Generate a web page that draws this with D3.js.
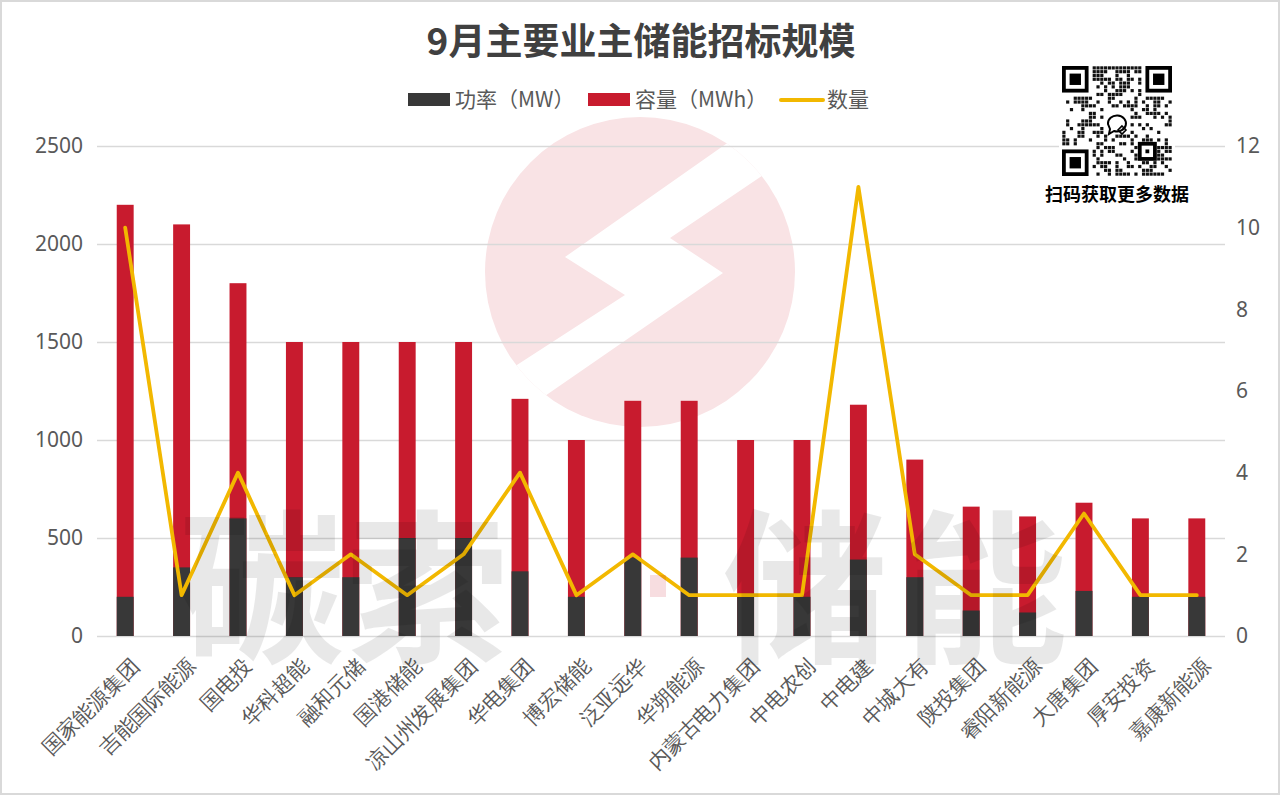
<!DOCTYPE html>
<html>
<head>
<meta charset="utf-8">
<script src="https://cdn.jsdelivr.net/npm/d3@7/dist/d3.min.js"></script>
<style>
  html, body { margin: 0; padding: 0; background: #fff; }
  svg { display: block; font-family: "Noto Sans CJK SC", "Noto Sans", sans-serif; }
</style>
</head>
<body>
<svg id="chart" width="1280" height="796"></svg>
<script>
// ---- data ----
const categories = ["国家能源集团","吉能国际能源","国电投","华科超能","融和元储","国港储能","凉山州发展集团","华电集团","博宏储能","泛亚远华","华朔能源","内蒙古电力集团","中电农创","中电建","中城大有","陕投集团","睿阳新能源","大唐集团","厚安投资","嘉康新能源"];
const powerMW = [200,350,600,300,300,500,500,330,200,400,400,200,200,390,300,130,120,230,200,200];
const capacityMWh = [2200,2100,1800,1500,1500,1500,1500,1210,1000,1200,1200,1000,1000,1180,900,660,610,680,600,600];
const counts = [10,1,4,1,2,1,2,4,1,2,1,1,1,11,2,1,1,3,1,1];
const leftTicks = [0,500,1000,1500,2000,2500];
const rightTicks = [0,2,4,6,8,10,12];
const legendLabels = ["功率（MW）","容量（MWh）","数量"];
const titleText = "9月主要业主储能招标规模";

// ---- layout ----
const W = 1280, H = 796;
const L = 97, R = 1225, T = 146, B = 636;
const cDark = "#383838", cRed = "#C81B2E", cLine = "#F2B800", cGrid = "#D9D9D9", cText = "#595959";

const svg = d3.select("#chart");
svg.append("rect").attr("x",1).attr("y",1).attr("width",W-2).attr("height",H-3)
  .attr("fill","#fff").attr("stroke","#D9D9D9").attr("stroke-width",2);

const x = d3.scaleBand().domain(categories).range([L,R]).paddingInner(0.7).paddingOuter(0.35);
const yL = d3.scaleLinear().domain([0,2500]).range([B,T]);
const yR = d3.scaleLinear().domain([0,12]).range([B,T]);

// ---- background logo watermark ----
const defs = svg.append("defs");
defs.append("clipPath").attr("id","circClip").append("circle").attr("cx",640).attr("cy",272).attr("r",155);
const logo = svg.append("g");
logo.append("circle").attr("cx",640).attr("cy",272).attr("r",155).attr("fill","#F9E3E5");
logo.append("polygon").attr("clip-path","url(#circClip)").attr("fill","#fff")
  .attr("points",[[800,92],[565,257],[625,295],[460,402],[490,434],[723,273],[670,238],[830,130]].map(p=>p.join(",")).join(" "));

// ---- gridlines + left axis ----
const gL = svg.append("g").attr("transform",`translate(${L},0)`)
  .call(d3.axisLeft(yL).tickValues(leftTicks).tickSize(-(R-L)).tickPadding(14).tickFormat(d3.format("d")));
gL.select(".domain").remove();
gL.selectAll(".tick line").attr("stroke",cGrid).attr("stroke-width",1.3);
gL.selectAll(".tick text").attr("fill",cText).attr("font-size",21).attr("font-family","'Noto Sans','Open Sans',sans-serif");

// ---- right axis ----
const gR = svg.append("g").attr("transform",`translate(${R},0)`)
  .call(d3.axisRight(yR).tickValues(rightTicks).tickSize(0).tickPadding(11));
gR.select(".domain").remove();
gR.selectAll(".tick text").attr("fill",cText).attr("font-size",21).attr("font-family","'Noto Sans','Open Sans',sans-serif");

// ---- bars ----
svg.append("g").selectAll("rect").data(categories).join("rect")
  .attr("x",d=>x(d)).attr("width",x.bandwidth())
  .attr("y",(d,i)=>yL(capacityMWh[i])).attr("height",(d,i)=>yL(0)-yL(capacityMWh[i]))
  .attr("fill",cRed);
svg.append("g").selectAll("rect").data(categories).join("rect")
  .attr("x",d=>x(d)).attr("width",x.bandwidth())
  .attr("y",(d,i)=>yL(powerMW[i])).attr("height",(d,i)=>yL(0)-yL(powerMW[i]))
  .attr("fill",cDark);

// ---- line ----
const line = d3.line().x((d,i)=>x(categories[i])+x.bandwidth()/2).y(d=>yR(d));
svg.append("path").datum(counts).attr("d",line).attr("fill","none")
  .attr("stroke",cLine).attr("stroke-width",3.8).attr("stroke-linejoin","round").attr("stroke-linecap","round");

// ---- x axis labels ----
const gX = svg.append("g").attr("transform",`translate(0,${B})`)
  .call(d3.axisBottom(x).tickSize(0).tickPadding(0));
gX.select(".domain").remove();
gX.selectAll(".tick text")
  .attr("x",0).attr("y",0).attr("dy","0.35em")
  .attr("transform","translate(10,26) rotate(-45)")
  .attr("text-anchor","end").attr("fill",cText).attr("font-size",21);

// ---- foreground text watermark ----
const wm = svg.append("g").attr("font-weight",700).attr("font-size",165).attr("fill","#000").attr("fill-opacity",0.09).attr("text-anchor","middle");
[["碳",262],["索",427],["储",805],["能",985]].forEach(([t,cx])=>{
  wm.append("text").attr("x",cx).attr("y",650).text(t);
});
svg.append("rect").attr("x",650).attr("y",575).attr("width",16).attr("height",22).attr("fill","#C81B2E").attr("fill-opacity",0.15);

// ---- title ----
svg.append("text").attr("x",641).attr("y",55).attr("text-anchor","middle")
  .attr("font-size",37).attr("font-weight",700).attr("fill","#404040").text(titleText);

// ---- legend ----
const lg = svg.append("g").attr("font-size",21).attr("fill",cText);
lg.append("rect").attr("x",408).attr("y",93).attr("width",42).attr("height",13).attr("fill",cDark);
lg.append("text").attr("x",455).attr("y",100).attr("dy","0.35em").text(legendLabels[0]);
lg.append("rect").attr("x",588).attr("y",93).attr("width",42).attr("height",13).attr("fill",cRed);
lg.append("text").attr("x",635).attr("y",100).attr("dy","0.35em").text(legendLabels[1]);
lg.append("line").attr("x1",781).attr("x2",823).attr("y1",100).attr("y2",100).attr("stroke",cLine).attr("stroke-width",4).attr("stroke-linecap","round");
lg.append("text").attr("x",827).attr("y",100).attr("dy","0.35em").text(legendLabels[2]);

// ---- QR code (decorative) ----
const qr = svg.append("g").attr("transform","translate(1062,66)");
const N = 29, m = 110/N;
qr.append("rect").attr("x",-3).attr("y",-3).attr("width",116).attr("height",116).attr("fill","#fff");
function finder(gx,gy){
  qr.append("rect").attr("x",gx*m).attr("y",gy*m).attr("width",7*m).attr("height",7*m).attr("fill","#000");
  qr.append("rect").attr("x",(gx+1)*m).attr("y",(gy+1)*m).attr("width",5*m).attr("height",5*m).attr("fill","#fff");
  qr.append("rect").attr("x",(gx+2)*m).attr("y",(gy+2)*m).attr("width",3*m).attr("height",3*m).attr("fill","#000");
}
const mods = [];
for (let i=0;i<N;i++) for (let j=0;j<N;j++){
  const inF = (i<8&&j<8)||(i>=N-8&&j<8)||(i<8&&j>=N-8);
  const inC = i>=11&&i<=17&&j>=11&&j<=17;
  const inA = i>=N-9&&i<=N-5&&j>=N-9&&j<=N-5;
  if (inF||inC||inA) continue;
  const h = ((i*73856093) ^ (j*19349663) ^ (i*j*83492791)) >>> 0;
  if ((h % 97) < 48) mods.push([i,j]);
}
qr.selectAll("rect.m").data(mods).join("rect").attr("class","m")
  .attr("x",d=>d[0]*m+0.3).attr("y",d=>d[1]*m+0.3).attr("width",m-0.6).attr("height",m-0.6).attr("fill","#111");
finder(0,0); finder(N-7,0); finder(0,N-7);
qr.append("rect").attr("x",(N-9)*m).attr("y",(N-9)*m).attr("width",5*m).attr("height",5*m).attr("fill","#000");
qr.append("rect").attr("x",(N-8)*m).attr("y",(N-8)*m).attr("width",3*m).attr("height",3*m).attr("fill","#fff");
qr.append("rect").attr("x",(N-7)*m).attr("y",(N-7)*m).attr("width",1*m).attr("height",1*m).attr("fill","#000");
qr.append("path").attr("d","M46,58 a9,8 0 1 1 6,7 l-5,3 l1,-5 z").attr("fill","none").attr("stroke","#000").attr("stroke-width",2);
qr.append("path").attr("d","M60,60 l4,4 l-4,4 l-4,-4 z").attr("fill","none").attr("stroke","#000").attr("stroke-width",1.6);
svg.append("text").attr("x",1117).attr("y",195).attr("dy","0.35em").attr("text-anchor","middle")
  .attr("font-size",18).attr("font-weight",700).attr("fill","#000").text("扫码获取更多数据");
</script>
</body>
</html>
